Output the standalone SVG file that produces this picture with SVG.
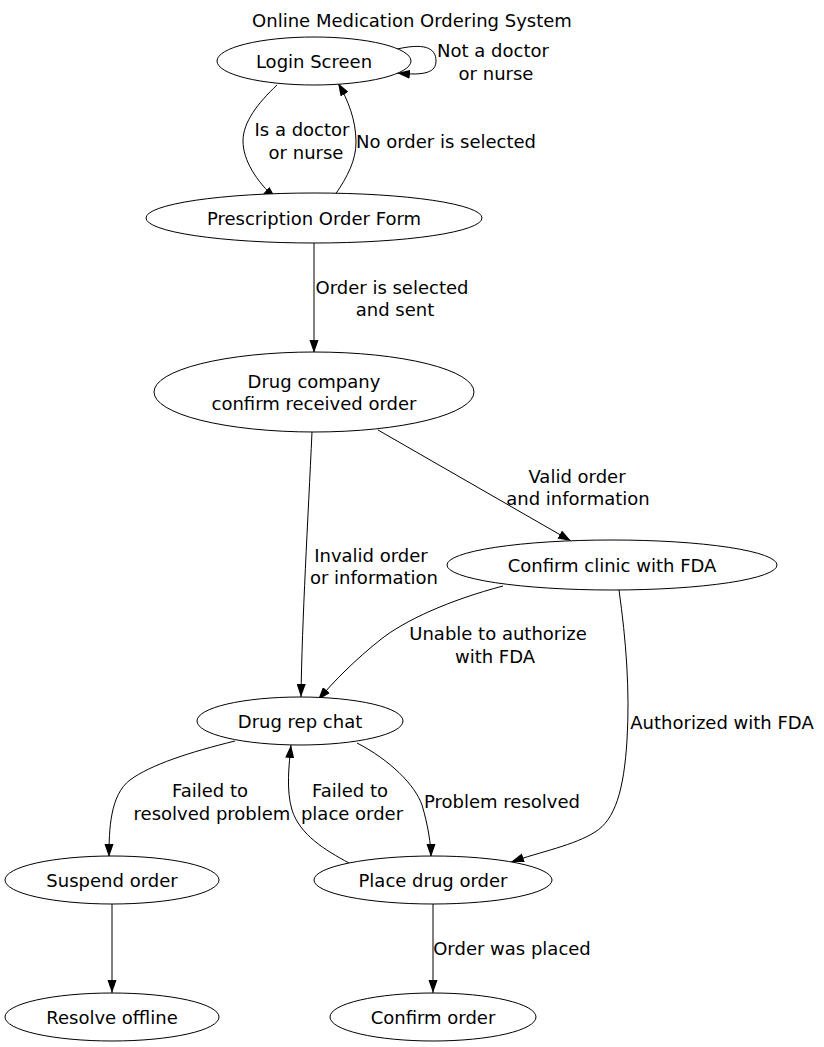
<svg xmlns="http://www.w3.org/2000/svg" width="824" height="1047" viewBox="0 0 824 1047">
<defs>
<marker id="arr" viewBox="0 0 10 7" refX="10" refY="3.5" markerWidth="13" markerHeight="9.3" markerUnits="userSpaceOnUse" orient="auto">
<path d="M0,0 L10,3.5 L0,7 z" fill="#000"/>
</marker>
<style>
text{font-family:"DejaVu Sans","Liberation Sans",sans-serif;font-size:18px;fill:#000;text-anchor:middle}
ellipse{fill:#fff;stroke:#000;stroke-width:1}
.e path{fill:none;stroke:#000;stroke-width:1;marker-end:url(#arr)}
</style>
</defs>
<rect width="824" height="1047" fill="#fff"/>
<text x="412" y="27">Online Medication Ordering System</text>
<g id="edges" class="e">
<path d="M393,50 C425,42 436,48 436,61 C436,72 426,76 397,73"/>
<path d="M277,85 C258,103 243,122 243,141 C243,160 256,181 276,199"/>
<path d="M335,195 C348,176 356,160 356,142 C356,120 348,100 338,83"/>
<path d="M314,243 L314,353"/>
<path d="M312,432 C308,520 302,620 301,697"/>
<path d="M378,430 L571,541"/>
<path d="M503,586 C450,600 405,620 380,640 C355,660 335,680 318,700"/>
<path d="M619,590 C626,640 630,690 627,740 C624,790 615,820 595,832 C575,845 540,852 511,862"/>
<path d="M235,741 C190,752 150,765 130,780 C110,795 109,830 109,857"/>
<path d="M357,743 C390,760 415,785 422,805 C428,825 431,845 431,857"/>
<path d="M349,863 C325,850 300,835 292,810 C286,790 289,765 291,745"/>
<path d="M112,904 L112,993"/>
<path d="M433,904 L433,993"/>
</g>
<g id="edge-labels">
<text x="493" y="57">Not a doctor</text>
<text x="496" y="80">or nurse</text>
<text x="302" y="136">Is a doctor</text>
<text x="306" y="159">or nurse</text>
<text x="446" y="148">No order is selected</text>
<text x="392" y="294">Order is selected</text>
<text x="395" y="316">and sent</text>
<text x="371" y="562">Invalid order</text>
<text x="374" y="584">or information</text>
<text x="577" y="483">Valid order</text>
<text x="578" y="505">and information</text>
<text x="498" y="640">Unable to authorize</text>
<text x="495" y="663">with FDA</text>
<text x="722" y="729">Authorized with FDA</text>
<text x="210" y="797">Failed to</text>
<text x="212" y="820">resolved problem</text>
<text x="350" y="797">Failed to</text>
<text x="352" y="820">place order</text>
<text x="502" y="808">Problem resolved</text>
<text x="512" y="955">Order was placed</text>
</g>
<g id="login"><ellipse cx="314" cy="61" rx="97" ry="24"/><text x="314" y="68">Login Screen</text></g>
<g id="prescription"><ellipse cx="314" cy="218" rx="168" ry="25"/><text x="314" y="225">Prescription Order Form</text></g>
<g id="drugco"><ellipse cx="314" cy="392" rx="160" ry="40"/><text x="314" y="388">Drug company</text><text x="314" y="410">confirm received order</text></g>
<g id="fda"><ellipse cx="612" cy="565" rx="165" ry="25"/><text x="612" y="572">Confirm clinic with FDA</text></g>
<g id="drugrep"><ellipse cx="300" cy="721" rx="103" ry="24"/><text x="300" y="728">Drug rep chat</text></g>
<g id="suspend"><ellipse cx="112" cy="880" rx="107" ry="24"/><text x="112" y="887">Suspend order</text></g>
<g id="place"><ellipse cx="433" cy="880" rx="119" ry="24"/><text x="433" y="887">Place drug order</text></g>
<g id="resolve"><ellipse cx="112" cy="1017" rx="107" ry="24"/><text x="112" y="1024">Resolve offline</text></g>
<g id="confirm"><ellipse cx="433" cy="1017" rx="103" ry="24"/><text x="433" y="1024">Confirm order</text></g>
</svg>
